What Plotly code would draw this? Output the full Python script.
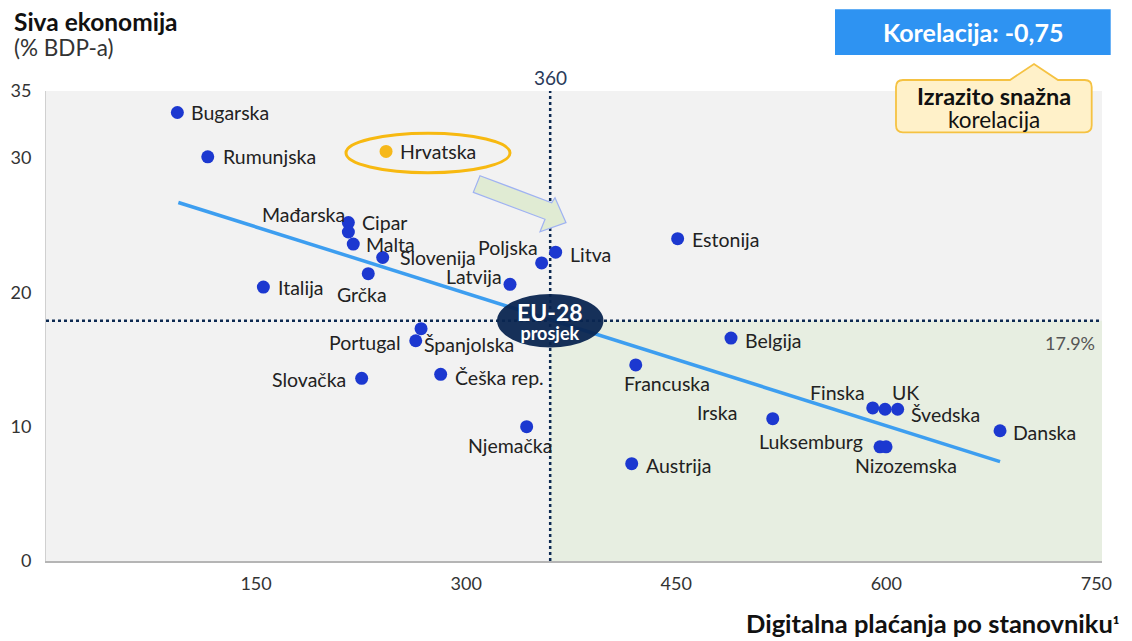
import plotly.graph_objects as go

# ---------------- data ----------------
countries = ["Bugarska", "Rumunjska", "Hrvatska", "Mađarska", "Cipar", "Malta", "Slovenija",
             "Grčka", "Italija", "Latvija", "Poljska", "Litva", "Estonija", "Portugal",
             "Španjolska", "Slovačka", "Češka rep.", "Njemačka", "Belgija", "Francuska",
             "Irska", "Austrija", "Finska", "UK", "Švedska", "Luksemburg", "Nizozemska", "Danska"]
digital_payments = [93.8, 115.5, 242.8, 215.9, 215.9, 219.4, 240.4,
                    230.1, 155.2, 331.3, 353.9, 363.9, 451.0, 264.0,
                    267.8, 225.4, 281.8, 343.2, 489.1, 421.1,
                    518.9, 418.2, 590.3, 599.1, 608.1, 595.5, 599.8, 681.2]
shadow_economy = [33.4, 30.1, 30.5, 25.2, 24.5, 23.6, 22.6,
                  21.4, 20.4, 20.6, 22.2, 23.0, 24.0, 16.4,
                  17.3, 13.6, 13.9, 10.0, 16.6, 14.6,
                  10.6, 7.25, 11.4, 11.3, 11.3, 8.5, 8.5, 9.7]
highlight_country = "Hrvatska"
eu_avg_x = 360
eu_avg_y = 17.9
trend_x = [94.5, 681.2]
trend_y = [26.7, 7.4]
x_ticks = [150, 300, 450, 600, 750]
y_ticks = [0, 10, 20, 30, 35]
correlation_text = "Korelacija: -0,75"

# ---------------- layout helpers ----------------
W, H = 1132, 641
ML, MR, MT, MB = 46, 30, 91, 80
PW, PH = W - ML - MR, H - MT - MB
XMAX, YMAX = 754, 35


def dx(px):
    return (px - ML) / PW * XMAX


def dy(py):
    return (H - MB - py) / PH * YMAX


def qx(px):
    return (px - ML) / PW


def qy(py):
    return (H - MB - py) / PH


# label placement: anchor, x shift, y shift (pixels)
label_pos = {
    "Bugarska": ("left", 12, 0), "Rumunjska": ("left", 13, 0), "Hrvatska": ("left", 12, 0),
    "Mađarska": ("right", -1, 8), "Cipar": ("left", 12, 10), "Malta": ("left", 11, 0),
    "Slovenija": ("left", 15, 0), "Grčka": ("center", -6, -21), "Italija": ("left", 13, 0),
    "Latvija": ("right", -6, 8), "Poljska": ("right", -2, 15), "Litva": ("left", 12, -2),
    "Estonija": ("left", 12, -1), "Portugal": ("right", -13, -2), "Španjolska": ("left", 1, -16),
    "Slovačka": ("right", -14, -1), "Češka rep.": ("left", 12, -3), "Njemačka": ("center", -17, -19),
    "Belgija": ("left", 12, -2), "Francuska": ("left", -14, -19), "Irska": ("right", -34, 6),
    "Austrija": ("left", 12, -2), "Finska": ("right", -6, 15), "UK": ("center", 20, 17),
    "Švedska": ("left", 11, -5), "Luksemburg": ("right", -15, 5), "Nizozemska": ("center", 20, -19),
    "Danska": ("left", 11, -2),
}

FONT = "Lato, 'Open Sans', sans-serif"
BLUE = "#1c38d0"
ORANGE = "#f6b81a"
NAVY = "#0d2a52"
LABEL_SIZE = 19.5

fig = go.Figure()

# trend line
fig.add_trace(go.Scatter(x=trend_x, y=trend_y, mode="lines",
                         line=dict(color="#3d9ef0", width=3.5), hoverinfo="skip"))

# points
colors = [ORANGE if c == highlight_country else BLUE for c in countries]
fig.add_trace(go.Scatter(x=digital_payments, y=shadow_economy, mode="markers",
                         marker=dict(size=13, color=colors, line=dict(width=0)),
                         text=countries, hoverinfo="text"))


def ann(x, y, text, size, color="#222222", xanchor="center", xref="paper", yref="paper", **kw):
    return dict(x=x, y=y, xref=xref, yref=yref, text=text, showarrow=False,
                xanchor=xanchor, yanchor="middle",
                font=dict(family=FONT, size=size, color=color), **kw)


annotations = []
for c, xv, yv in zip(countries, digital_payments, shadow_economy):
    anc, sx, sy = label_pos[c]
    annotations.append(ann(xv, yv, c, LABEL_SIZE, xanchor=anc, xref="x", yref="y",
                           xshift=sx, yshift=sy))

# EU-28 text (two lines, one annotation)
annotations.append(ann(eu_avg_x, eu_avg_y,
                       "<span style='font-size:23px'><b>EU-28</b></span><br>"
                       "<span style='font-size:18px'><b>prosjek</b></span>",
                       14.5, "white", xref="x", yref="y", yshift=0))
# 360 label
annotations.append(ann(eu_avg_x, qy(78), str(eu_avg_x), 19, "#2a3a5a", xref="x"))
# 17.9% label
annotations.append(ann(qx(1097), qy(342.7), f"{eu_avg_y}%", 18, "#555555", xanchor="right"))
# titles
annotations.append(ann(qx(12), qy(22), "<b>Siva ekonomija</b>", 24.5, "#111111", xanchor="left"))
annotations.append(ann(qx(12), qy(47), "(% BDP-a)", 22.5, "#333333", xanchor="left"))
annotations.append(ann(qx(1121), qy(623), "<b>Digitalna plaćanja po stanovniku</b>"
                       "<span style='font-size:20px'><b>¹</b></span>", 25.5, "#111111",
                       xanchor="right"))
# correlation box text
annotations.append(ann(qx(973), qy(32), f"<b>{correlation_text}</b>", 25, "white"))
annotations.append(ann(qx(994), qy(107),
                       "<span style='font-size:23.5px'><b>Izrazito snažna</b></span><br>"
                       "<span style='font-size:22.5px'>korelacija</span>", 18, "#111111"))

shapes = []
# green quadrant
shapes.append(dict(type="rect", xref="x", yref="y", x0=eu_avg_x, x1=XMAX, y0=0, y1=eu_avg_y,
                   fillcolor="#e7eee1", line=dict(width=0), layer="below"))
# dotted average lines
shapes.append(dict(type="line", xref="x", yref="y", x0=eu_avg_x, x1=eu_avg_x, y0=0, y1=YMAX,
                   line=dict(color=NAVY, width=2.5, dash="dot"), layer="below"))
shapes.append(dict(type="line", xref="x", yref="y", x0=0, x1=XMAX, y0=eu_avg_y, y1=eu_avg_y,
                   line=dict(color=NAVY, width=2.5, dash="dot"), layer="below"))
# Croatia ellipse
shapes.append(dict(type="circle", xref="x", yref="y", x0=dx(346), x1=dx(510), y0=dy(172.7), y1=dy(133.3),
                   line=dict(color="#f7b911", width=3), layer="above"))
# arrow
arrow_px = [(480, 175.7), (551.7, 202.7), (555, 197.7), (566, 222.7), (540, 231.7), (545, 219.3), (473.3, 192.3)]
path = "M " + " L ".join(f"{dx(a):.3f},{dy(b):.3f}" for a, b in arrow_px) + " Z"
shapes.append(dict(type="path", xref="x", yref="y", path=path, fillcolor="#e0ebd3",
                   line=dict(color="#9fb2f2", width=1.2), layer="above"))
# EU ellipse
shapes.append(dict(type="circle", xref="x", yref="y", x0=dx(497), x1=dx(603.5), y0=dy(347.5), y1=dy(294),
                   fillcolor="#0a2550", opacity=0.95, line=dict(width=0), layer="above"))
# correlation box
shapes.append(dict(type="rect", xref="paper", yref="paper", x0=qx(835), x1=qx(1110.7), y0=qy(55), y1=qy(9.3),
                   fillcolor="#2e93f2", line=dict(width=0), layer="above"))
# callout
r = 7
L_, R_, T_, B_ = 896, 1091.7, 80, 132.3
cp = [("M", (L_ + r, T_)), ("L", (1010, T_)), ("L", (1034, 64)), ("L", (1058, T_)), ("L", (R_ - r, T_)),
      ("Q", (R_, T_), (R_, T_ + r)), ("L", (R_, B_ - r)), ("Q", (R_, B_), (R_ - r, B_)),
      ("L", (L_ + r, B_)), ("Q", (L_, B_), (L_, B_ - r)), ("L", (L_, T_ + r)), ("Q", (L_, T_), (L_ + r, T_))]
parts = []
for seg in cp:
    cmd = seg[0]
    pts = " ".join(f"{qx(p[0]):.5f},{qy(p[1]):.5f}" for p in seg[1:])
    parts.append(f"{cmd} {pts}")
shapes.append(dict(type="path", xref="paper", yref="paper", path=" ".join(parts) + " Z",
                   fillcolor="#fff1c9", line=dict(color="#f5c242", width=1.8), layer="above"))

fig.update_layout(
    width=W, height=H,
    margin=dict(l=ML, r=MR, t=MT, b=MB),
    paper_bgcolor="white", plot_bgcolor="#f2f2f2",
    showlegend=False,
    font=dict(family=FONT, size=18, color="#333333"),
    xaxis=dict(range=[0, XMAX], tickvals=x_ticks, showgrid=False, zeroline=False,
               showline=True, linecolor="#b5b5b5", linewidth=1.5, ticks="outside", ticklen=6,
               tickcolor="rgba(0,0,0,0)", tickfont=dict(family=FONT, size=18, color="#333333"), fixedrange=True),
    yaxis=dict(range=[0, YMAX], tickvals=y_ticks, showgrid=False, zeroline=False,
               showline=True, linecolor="#d0d0d0", linewidth=1, ticks="outside", ticklen=10,
               tickcolor="rgba(0,0,0,0)", tickfont=dict(family=FONT, size=18, color="#333333"), fixedrange=True),
    annotations=annotations,
    shapes=shapes,
)

fig.write_html("out.html", config={"displayModeBar": False},
               post_script="document.body.style.margin='0';document.body.style.padding='0';")
